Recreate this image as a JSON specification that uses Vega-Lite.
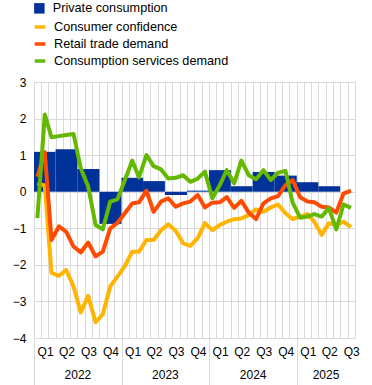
{
  "$schema": "https://vega.github.io/schema/vega-lite/v6.json",
  "autosize": "none",
  "width": 321,
  "height": 256,
  "padding": {"left": 34, "top": 82, "right": 17, "bottom": 47},
  "config": {
    "view": {"stroke": null},
    "font": "Liberation Sans",
    "axis": {"labelFont": "Liberation Sans", "labelFontSize": 12, "labelColor": "#000000", "gridColor": "#d9d9d9", "gridWidth": 1, "domain": false, "title": null},
    "legend": {"labelFont": "Liberation Sans", "labelFontSize": 12.7, "labelColor": "#000000", "padding": 0, "labelLimit": 400}
  },
  "datasets": {
    "bars": [
      {"start": "2022-01-01", "end": "2022-04-01", "series": "Private consumption", "value": 1.09},
      {"start": "2022-04-01", "end": "2022-07-01", "series": "Private consumption", "value": 1.16},
      {"start": "2022-07-01", "end": "2022-10-01", "series": "Private consumption", "value": 0.62},
      {"start": "2022-10-01", "end": "2023-01-01", "series": "Private consumption", "value": -0.88},
      {"start": "2023-01-01", "end": "2023-04-01", "series": "Private consumption", "value": 0.38},
      {"start": "2023-04-01", "end": "2023-07-01", "series": "Private consumption", "value": 0.29},
      {"start": "2023-07-01", "end": "2023-10-01", "series": "Private consumption", "value": -0.09},
      {"start": "2023-10-01", "end": "2024-01-01", "series": "Private consumption", "value": 0.03},
      {"start": "2024-01-01", "end": "2024-04-01", "series": "Private consumption", "value": 0.59},
      {"start": "2024-04-01", "end": "2024-07-01", "series": "Private consumption", "value": 0.15},
      {"start": "2024-07-01", "end": "2024-10-01", "series": "Private consumption", "value": 0.54},
      {"start": "2024-10-01", "end": "2025-01-01", "series": "Private consumption", "value": 0.44},
      {"start": "2025-01-01", "end": "2025-04-01", "series": "Private consumption", "value": 0.26},
      {"start": "2025-04-01", "end": "2025-07-01", "series": "Private consumption", "value": 0.15}
    ],
    "lines": [
      {"date": "2022-01-15", "series": "Consumer confidence", "value": 0.23},
      {"date": "2022-02-15", "series": "Consumer confidence", "value": 0.17},
      {"date": "2022-03-15", "series": "Consumer confidence", "value": -2.22},
      {"date": "2022-04-15", "series": "Consumer confidence", "value": -2.3},
      {"date": "2022-05-15", "series": "Consumer confidence", "value": -2.14},
      {"date": "2022-06-15", "series": "Consumer confidence", "value": -2.59},
      {"date": "2022-07-15", "series": "Consumer confidence", "value": -3.3},
      {"date": "2022-08-15", "series": "Consumer confidence", "value": -2.85},
      {"date": "2022-09-15", "series": "Consumer confidence", "value": -3.57},
      {"date": "2022-10-15", "series": "Consumer confidence", "value": -3.35},
      {"date": "2022-11-15", "series": "Consumer confidence", "value": -2.59},
      {"date": "2022-12-15", "series": "Consumer confidence", "value": -2.32},
      {"date": "2023-01-15", "series": "Consumer confidence", "value": -2.03},
      {"date": "2023-02-15", "series": "Consumer confidence", "value": -1.64},
      {"date": "2023-03-15", "series": "Consumer confidence", "value": -1.64},
      {"date": "2023-04-15", "series": "Consumer confidence", "value": -1.32},
      {"date": "2023-05-15", "series": "Consumer confidence", "value": -1.32},
      {"date": "2023-06-15", "series": "Consumer confidence", "value": -1.05},
      {"date": "2023-07-15", "series": "Consumer confidence", "value": -0.89},
      {"date": "2023-08-15", "series": "Consumer confidence", "value": -1.07},
      {"date": "2023-09-15", "series": "Consumer confidence", "value": -1.41},
      {"date": "2023-10-15", "series": "Consumer confidence", "value": -1.48},
      {"date": "2023-11-15", "series": "Consumer confidence", "value": -1.27},
      {"date": "2023-12-15", "series": "Consumer confidence", "value": -0.86},
      {"date": "2024-01-15", "series": "Consumer confidence", "value": -1.05},
      {"date": "2024-02-15", "series": "Consumer confidence", "value": -0.91},
      {"date": "2024-03-15", "series": "Consumer confidence", "value": -0.82},
      {"date": "2024-04-15", "series": "Consumer confidence", "value": -0.75},
      {"date": "2024-05-15", "series": "Consumer confidence", "value": -0.73},
      {"date": "2024-06-15", "series": "Consumer confidence", "value": -0.64},
      {"date": "2024-07-15", "series": "Consumer confidence", "value": -0.48},
      {"date": "2024-08-15", "series": "Consumer confidence", "value": -0.55},
      {"date": "2024-09-15", "series": "Consumer confidence", "value": -0.43},
      {"date": "2024-10-15", "series": "Consumer confidence", "value": -0.35},
      {"date": "2024-11-15", "series": "Consumer confidence", "value": -0.59},
      {"date": "2024-12-15", "series": "Consumer confidence", "value": -0.75},
      {"date": "2025-01-15", "series": "Consumer confidence", "value": -0.68},
      {"date": "2025-02-15", "series": "Consumer confidence", "value": -0.61},
      {"date": "2025-03-15", "series": "Consumer confidence", "value": -0.82},
      {"date": "2025-04-15", "series": "Consumer confidence", "value": -1.18},
      {"date": "2025-05-15", "series": "Consumer confidence", "value": -0.86},
      {"date": "2025-06-15", "series": "Consumer confidence", "value": -0.91},
      {"date": "2025-07-15", "series": "Consumer confidence", "value": -0.82},
      {"date": "2025-08-15", "series": "Consumer confidence", "value": -0.97},
      {"date": "2022-01-15", "series": "Retail trade demand", "value": 0.41},
      {"date": "2022-02-15", "series": "Retail trade demand", "value": 1.08},
      {"date": "2022-03-15", "series": "Retail trade demand", "value": -1.32},
      {"date": "2022-04-15", "series": "Retail trade demand", "value": -0.95},
      {"date": "2022-05-15", "series": "Retail trade demand", "value": -1.09},
      {"date": "2022-06-15", "series": "Retail trade demand", "value": -1.5},
      {"date": "2022-07-15", "series": "Retail trade demand", "value": -1.66},
      {"date": "2022-08-15", "series": "Retail trade demand", "value": -1.39},
      {"date": "2022-09-15", "series": "Retail trade demand", "value": -1.77},
      {"date": "2022-10-15", "series": "Retail trade demand", "value": -1.64},
      {"date": "2022-11-15", "series": "Retail trade demand", "value": -1.0},
      {"date": "2022-12-15", "series": "Retail trade demand", "value": -0.85},
      {"date": "2023-01-15", "series": "Retail trade demand", "value": -0.59},
      {"date": "2023-02-15", "series": "Retail trade demand", "value": -0.32},
      {"date": "2023-03-15", "series": "Retail trade demand", "value": -0.29},
      {"date": "2023-04-15", "series": "Retail trade demand", "value": 0.03},
      {"date": "2023-05-15", "series": "Retail trade demand", "value": -0.55},
      {"date": "2023-06-15", "series": "Retail trade demand", "value": -0.27},
      {"date": "2023-07-15", "series": "Retail trade demand", "value": -0.18},
      {"date": "2023-08-15", "series": "Retail trade demand", "value": -0.41},
      {"date": "2023-09-15", "series": "Retail trade demand", "value": -0.32},
      {"date": "2023-10-15", "series": "Retail trade demand", "value": -0.27},
      {"date": "2023-11-15", "series": "Retail trade demand", "value": -0.09},
      {"date": "2023-12-15", "series": "Retail trade demand", "value": -0.43},
      {"date": "2024-01-15", "series": "Retail trade demand", "value": -0.3},
      {"date": "2024-02-15", "series": "Retail trade demand", "value": -0.29},
      {"date": "2024-03-15", "series": "Retail trade demand", "value": -0.15},
      {"date": "2024-04-15", "series": "Retail trade demand", "value": -0.44},
      {"date": "2024-05-15", "series": "Retail trade demand", "value": -0.25},
      {"date": "2024-06-15", "series": "Retail trade demand", "value": -0.57},
      {"date": "2024-07-15", "series": "Retail trade demand", "value": -0.75},
      {"date": "2024-08-15", "series": "Retail trade demand", "value": -0.32},
      {"date": "2024-09-15", "series": "Retail trade demand", "value": -0.18},
      {"date": "2024-10-15", "series": "Retail trade demand", "value": -0.12},
      {"date": "2024-11-15", "series": "Retail trade demand", "value": 0.18},
      {"date": "2024-12-15", "series": "Retail trade demand", "value": 0.32},
      {"date": "2025-01-15", "series": "Retail trade demand", "value": -0.15},
      {"date": "2025-02-15", "series": "Retail trade demand", "value": -0.27},
      {"date": "2025-03-15", "series": "Retail trade demand", "value": -0.29},
      {"date": "2025-04-15", "series": "Retail trade demand", "value": -0.41},
      {"date": "2025-05-15", "series": "Retail trade demand", "value": -0.43},
      {"date": "2025-06-15", "series": "Retail trade demand", "value": -0.57},
      {"date": "2025-07-15", "series": "Retail trade demand", "value": -0.05},
      {"date": "2025-08-15", "series": "Retail trade demand", "value": 0.03},
      {"date": "2022-01-15", "series": "Consumption services demand", "value": -0.72},
      {"date": "2022-02-15", "series": "Consumption services demand", "value": 2.11},
      {"date": "2022-03-15", "series": "Consumption services demand", "value": 1.49},
      {"date": "2022-04-15", "series": "Consumption services demand", "value": 1.52},
      {"date": "2022-05-15", "series": "Consumption services demand", "value": 1.55},
      {"date": "2022-06-15", "series": "Consumption services demand", "value": 1.58},
      {"date": "2022-07-15", "series": "Consumption services demand", "value": 0.64},
      {"date": "2022-08-15", "series": "Consumption services demand", "value": 0.14},
      {"date": "2022-09-15", "series": "Consumption services demand", "value": -0.91},
      {"date": "2022-10-15", "series": "Consumption services demand", "value": -1.03},
      {"date": "2022-11-15", "series": "Consumption services demand", "value": -0.27},
      {"date": "2022-12-15", "series": "Consumption services demand", "value": -0.21},
      {"date": "2023-01-15", "series": "Consumption services demand", "value": 0.32},
      {"date": "2023-02-15", "series": "Consumption services demand", "value": 0.85},
      {"date": "2023-03-15", "series": "Consumption services demand", "value": 0.39},
      {"date": "2023-04-15", "series": "Consumption services demand", "value": 1.0},
      {"date": "2023-05-15", "series": "Consumption services demand", "value": 0.7},
      {"date": "2023-06-15", "series": "Consumption services demand", "value": 0.61},
      {"date": "2023-07-15", "series": "Consumption services demand", "value": 0.36},
      {"date": "2023-08-15", "series": "Consumption services demand", "value": 0.38},
      {"date": "2023-09-15", "series": "Consumption services demand", "value": 0.45},
      {"date": "2023-10-15", "series": "Consumption services demand", "value": 0.27},
      {"date": "2023-11-15", "series": "Consumption services demand", "value": 0.36},
      {"date": "2023-12-15", "series": "Consumption services demand", "value": 0.55},
      {"date": "2024-01-15", "series": "Consumption services demand", "value": -0.18},
      {"date": "2024-02-15", "series": "Consumption services demand", "value": 0.18},
      {"date": "2024-03-15", "series": "Consumption services demand", "value": 0.59},
      {"date": "2024-04-15", "series": "Consumption services demand", "value": 0.23},
      {"date": "2024-05-15", "series": "Consumption services demand", "value": 0.85},
      {"date": "2024-06-15", "series": "Consumption services demand", "value": 0.45},
      {"date": "2024-07-15", "series": "Consumption services demand", "value": 0.34},
      {"date": "2024-08-15", "series": "Consumption services demand", "value": 0.59},
      {"date": "2024-09-15", "series": "Consumption services demand", "value": 0.32},
      {"date": "2024-10-15", "series": "Consumption services demand", "value": 0.52},
      {"date": "2024-11-15", "series": "Consumption services demand", "value": 0.57},
      {"date": "2024-12-15", "series": "Consumption services demand", "value": -0.3},
      {"date": "2025-01-15", "series": "Consumption services demand", "value": -0.71},
      {"date": "2025-02-15", "series": "Consumption services demand", "value": -0.68},
      {"date": "2025-03-15", "series": "Consumption services demand", "value": -0.61},
      {"date": "2025-04-15", "series": "Consumption services demand", "value": -0.68},
      {"date": "2025-05-15", "series": "Consumption services demand", "value": -0.45},
      {"date": "2025-06-15", "series": "Consumption services demand", "value": -1.03},
      {"date": "2025-07-15", "series": "Consumption services demand", "value": -0.35},
      {"date": "2025-08-15", "series": "Consumption services demand", "value": -0.44}
    ]
  },
  "encoding": {
    "y": {
      "field": "value", "type": "quantitative",
      "scale": {"domain": [-4, 3], "nice": false, "zero": false},
      "axis": {"values": [-4, -3, -2, -1, 0, 1, 2, 3], "ticks": false, "labelPadding": 8, "grid": true}
    }
  },
  "layer": [
    {
      "data": {"name": "bars"},
      "mark": {"type": "bar", "strokeWidth": 0},
      "encoding": {
        "x": {
          "field": "start", "type": "temporal",
          "scale": {"type": "utc", "domain": [{"year": 2022, "month": 1, "date": 1, "utc": true}, {"year": 2025, "month": 9, "date": 1, "utc": true}]},
          "axis": {
            "orient": "bottom",
            "tickCount": {"interval": "month", "step": 1},
            "grid": true,
            "ticks": true,
            "tickSize": 47,
            "tickColor": "#d9d9d9",
            "tickOpacity": {"condition": {"test": "utcmonth(datum.value) === 0", "value": 1}, "value": 0},
            "labelExpr": "utcmonth(datum.value) % 3 === 1 ? 'Q' + (floor(utcmonth(datum.value) / 3) + 1) : ''",
            "labelOffset": 3.65,
            "labelPadding": -39,
            "labelOverlap": false,
            "labelFlush": false,
            "labelBound": false
          }
        },
        "x2": {"field": "end"},
        "y2": {"datum": 0},
        "fill": {
          "field": "series", "type": "nominal",
          "scale": {"range": ["#003299"]},
          "legend": {"orient": "none", "legendX": -1, "legendY": -80, "title": null, "symbolType": "square", "symbolSize": 110, "symbolStrokeWidth": 0, "labelOffset": 7}
        }
      }
    },
    {
      "data": {"name": "lines"},
      "mark": {"type": "line", "strokeWidth": 4, "strokeJoin": "round"},
      "encoding": {
        "x": {
          "field": "date", "type": "temporal",
          "scale": {"type": "utc", "domain": [{"year": 2022, "month": 1, "date": 1, "utc": true}, {"year": 2025, "month": 9, "date": 1, "utc": true}]},
          "axis": {
            "orient": "bottom",
            "values": [
              {"year": 2022, "month": 7, "date": 1, "utc": true},
              {"year": 2023, "month": 7, "date": 1, "utc": true},
              {"year": 2024, "month": 7, "date": 1, "utc": true},
              {"year": 2025, "month": 5, "date": 1, "utc": true}
            ],
            "labelExpr": "utcFormat(datum.value, '%Y')",
            "ticks": false,
            "grid": false,
            "labelPadding": 31,
            "labelOverlap": false,
            "labelFlush": false
          }
        },
        "stroke": {
          "field": "series", "type": "nominal",
          "scale": {"domain": ["Consumer confidence", "Retail trade demand", "Consumption services demand"], "range": ["#ffb400", "#ff4b00", "#65b800"]},
          "legend": {"orient": "none", "legendX": -1, "legendY": -62, "title": null, "symbolType": "stroke", "symbolSize": 110, "symbolStrokeWidth": 3.5, "labelOffset": 7, "rowPadding": 3}
        }
      }
    }
  ],
  "resolve": {"axis": {"x": "independent"}}
}
